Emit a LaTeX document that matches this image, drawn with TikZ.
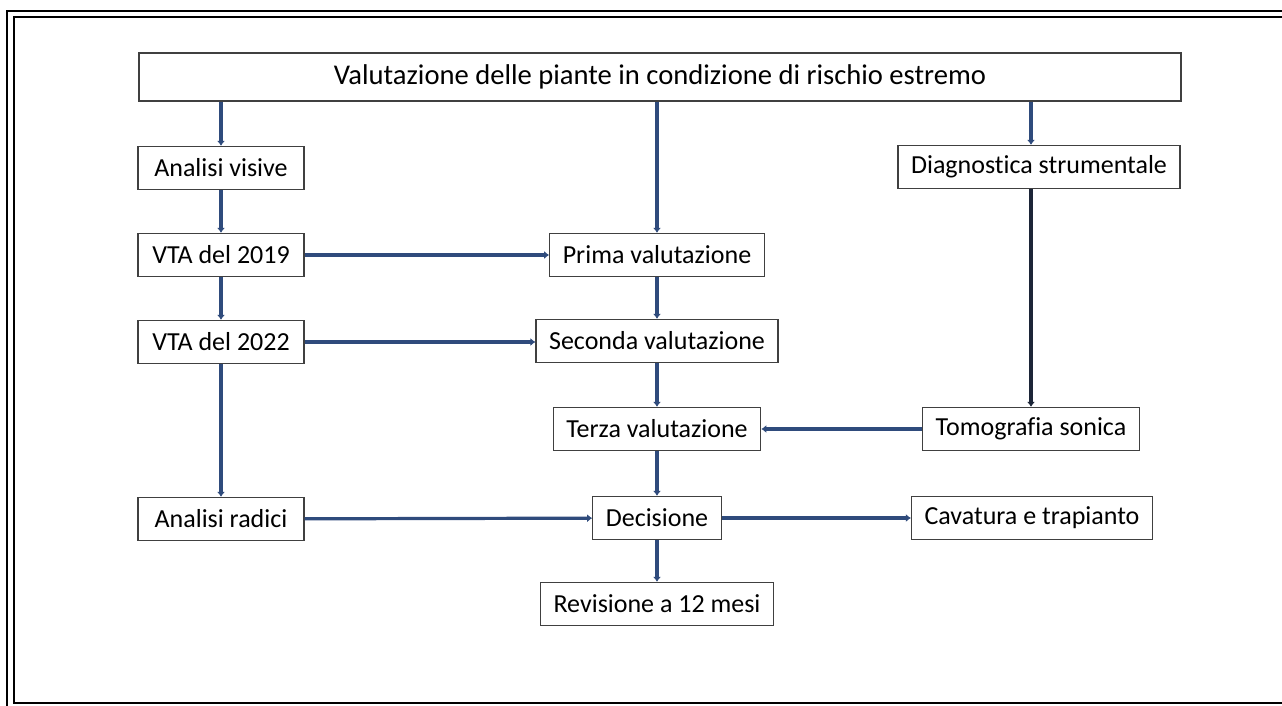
\documentclass[tikz,border=0pt]{standalone}
\usepackage{fontspec}
\setmainfont{Carlito}[Ligatures=NoCommon]
\usetikzlibrary{arrows.meta}
\definecolor{navy}{HTML}{2F4B7C}
\definecolor{darknavy}{HTML}{1C2538}
\begin{document}
\begin{tikzpicture}[x=1pt,y=-1pt,
	main/.style = {draw=black!75, line width=1.3pt, rectangle, minimum height=43pt, inner xsep=13pt, font=\fontsize{26}{30}\selectfont},
	arr/.style = {draw=navy, line width=3.2pt, -{Latex[length=5pt,width=8pt]}}]
				\useasboundingbox (0,0) rectangle (1282,706);
				\draw[line width=2pt] (7,706) -- (7,11) -- (1282,11);
				\draw[line width=2pt] (1282,17) -- (14,17) -- (14,703) -- (1282,703);

				\node[main, minimum width=1042pt, minimum height=48pt, font=\fontsize{28.6}{32}\selectfont] (title) at (660,77) {Valutazione delle piante in condizione di rischio estremo};
				\node[main, minimum width=166pt] (visive) at (221,168) {Analisi visive};
				\node[main, minimum width=166pt] (vta19) at (221,255) {VTA del 2019};
				\node[main, minimum width=166pt] (vta22) at (221,342) {VTA del 2022};
				\node[main, minimum width=166pt] (radici) at (221,519) {Analisi radici};
				\node[main] (prima) at (657,255) {Prima valutazione};
				\node[main] (seconda) at (657,341) {Seconda valutazione};
				\node[main] (terza) at (657,429) {Terza valutazione};
				\node[main] (decisione) at (657,518) {Decisione};
				\node[main] (revisione) at (657,604) {Revisione a 12 mesi};
				\node[main] (diagnostica) at (1039,167) {Diagnostica strumentale};
				\node[main] (tomografia) at (1031,429) {Tomografia sonica};
				\node[main] (cavatura) at (1032,518) {Cavatura e trapianto};

				\draw[arr] (title.south -| visive) -- (visive.north);
				\draw[arr] (title.south -| prima) -- (prima.north);
				\draw[arr] (title.south -| tomografia) -- (diagnostica.north -| tomografia);
				\draw[arr] (visive) -- (vta19);
				\draw[arr] (vta19) -- (vta22);
				\draw[arr] (vta22) -- (radici);
				\draw[arr] (vta19) -- (prima);
				\draw[arr] (vta22) -- (seconda.west |- vta22);
				\draw[arr] (prima) -- (seconda);
				\draw[arr] (seconda) -- (terza);
				\draw[arr, draw=darknavy, line width=3.6pt] (diagnostica.south -| tomografia) -- (tomografia);
				\draw[arr] (tomografia) -- (terza);
				\draw[arr] (terza) -- (decisione);
				\draw[arr] (radici) -- (decisione);
				\draw[arr] (decisione) -- (cavatura);
				\draw[arr] (decisione) -- (revisione);

			\end{tikzpicture}
\end{document}
